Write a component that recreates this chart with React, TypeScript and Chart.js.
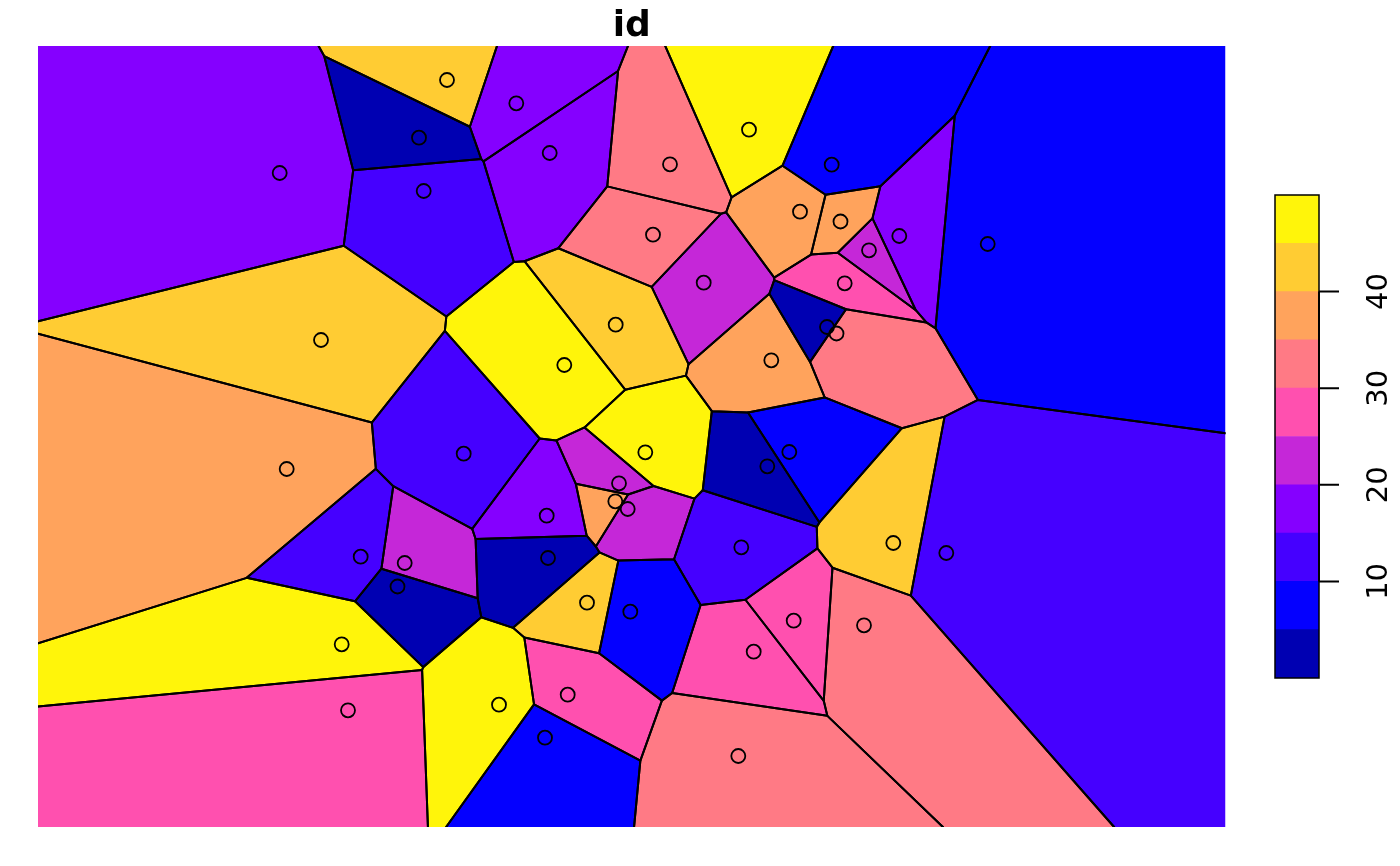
import React, { useEffect, useRef } from "react";
import { Chart, registerables } from "chart.js";

Chart.register(...registerables);

// ---------- data ----------
const chartTitle = "id";
const xExtent = [0, 1187.5];
const yExtent = [0, 781];

const seedX = [
  409, 478.3, 381, 511.7, 241.7, 385.7, 632, 711, 793.7, 762,
  802.5, 615, 831, 861.3, 949.7, 665.7, 806.7, 577.7, 283, 789,
  798.5, 526.3, 733.3, 425.7, 607.3, 751.3, 729.3, 248.7, 581, 577.3,
  589.7, 508.7, 703.3, 855.3, 908.3, 322.7, 366.7, 510, 359.5, 549,
  592.3, 755.7, 826, 303.7, 715.7, 529.7, 461, 310, 507, 700.3,
];
const seedY = [
  747, 723.7, 689.3, 674, 654, 636, 662.7, 697.3, 662.3, 615.3,
  605.5, 592.3, 576.7, 591, 583, 544.3, 543.7, 502.3, 487, 500,
  493.5, 462, 466.7, 373.3, 374.7, 375, 360.7, 358, 343.7, 325.7,
  318, 311.3, 279.7, 284, 274, 270.3, 264, 269, 240.5, 224.3,
  215.3, 206.3, 201.7, 182.7, 175.3, 132.3, 122.3, 116.7, 89.3, 71,
];
const seedId = [
  41, 16, 1, 17, 18, 11, 31, 46, 6, 36,
  37, 32, 21, 19, 7, 22, 26, 42, 43, 2,
  33, 47, 38, 12, 48, 8, 3, 39, 23, 40,
  24, 20, 13, 44, 14, 15, 25, 4, 5, 45,
  9, 27, 34, 49, 28, 29, 50, 30, 10, 35,
];
const breaks = [0, 5, 10, 15, 20, 25, 30, 35, 40, 45, 50];
const binColors = [
  "#0000B2", "#0400FF", "#4500FF", "#8500FF", "#C527D8",
  "#FF50AF", "#FF7A85", "#FFA35C", "#FFCC33", "#FFF50A",
];
const legendTicks = [10, 20, 30, 40];

// ---------- voronoi from seeds ----------
type Pt = { x: number; y: number };

function clipHalf(poly: Pt[], a: Pt, b: Pt): Pt[] {
  const nx = b.x - a.x;
  const ny = b.y - a.y;
  const mx = (a.x + b.x) / 2;
  const my = (a.y + b.y) / 2;
  const f = (p: Pt) => (p.x - mx) * nx + (p.y - my) * ny;
  const out: Pt[] = [];
  for (let k = 0; k < poly.length; k++) {
    const p = poly[k];
    const q = poly[(k + 1) % poly.length];
    const fp = f(p);
    const fq = f(q);
    if (fp <= 0) out.push(p);
    if ((fp < 0 && fq > 0) || (fp > 0 && fq < 0)) {
      const t = fp / (fp - fq);
      out.push({ x: p.x + t * (q.x - p.x), y: p.y + t * (q.y - p.y) });
    }
  }
  return out;
}

function computeCells(): Pt[][] {
  const seeds = seedX.map((x, i) => ({ x, y: seedY[i] }));
  return seeds.map((s, i) => {
    let poly: Pt[] = [
      { x: xExtent[0], y: yExtent[0] },
      { x: xExtent[1], y: yExtent[0] },
      { x: xExtent[1], y: yExtent[1] },
      { x: xExtent[0], y: yExtent[1] },
    ];
    seeds.forEach((o, j) => {
      if (j !== i && poly.length) poly = clipHalf(poly, s, o);
    });
    return poly;
  });
}

function colorFor(id: number): string {
  for (let k = 0; k < breaks.length - 1; k++) {
    if (id > breaks[k] && id <= breaks[k + 1]) return binColors[k];
  }
  return binColors[0];
}

function onBoundary(p: Pt, q: Pt): boolean {
  const e = 1e-6;
  if (Math.abs(p.x - xExtent[0]) < e && Math.abs(q.x - xExtent[0]) < e) return true;
  if (Math.abs(p.x - xExtent[1]) < e && Math.abs(q.x - xExtent[1]) < e) return true;
  if (Math.abs(p.y - yExtent[0]) < e && Math.abs(q.y - yExtent[0]) < e) return true;
  if (Math.abs(p.y - yExtent[1]) < e && Math.abs(q.y - yExtent[1]) < e) return true;
  return false;
}

const FONT = '"DejaVu Sans", "Liberation Sans", sans-serif';

export default function App() {
  const mainRef = useRef<HTMLCanvasElement>(null);
  const legRef = useRef<HTMLCanvasElement>(null);

  useEffect(() => {
    const cells = computeCells();

    const cellPlugin = {
      id: "voronoiCells",
      beforeDatasetsDraw(chart: any) {
        const { ctx, chartArea } = chart;
        const xs = chart.scales.x;
        const ys = chart.scales.y;
        ctx.save();
        ctx.beginPath();
        ctx.rect(chartArea.left, chartArea.top, chartArea.right - chartArea.left, chartArea.bottom - chartArea.top);
        ctx.clip();
        cells.forEach((poly, i) => {
          if (poly.length < 3) return;
          ctx.beginPath();
          poly.forEach((p, k) => {
            const px = xs.getPixelForValue(p.x);
            const py = ys.getPixelForValue(p.y);
            if (k === 0) ctx.moveTo(px, py);
            else ctx.lineTo(px, py);
          });
          ctx.closePath();
          ctx.fillStyle = colorFor(seedId[i]);
          ctx.fill();
        });
        ctx.strokeStyle = "#000";
        ctx.lineWidth = 2;
        ctx.lineJoin = "round";
        ctx.lineCap = "round";
        cells.forEach((poly) => {
          ctx.beginPath();
          for (let k = 0; k < poly.length; k++) {
            const p = poly[k];
            const q = poly[(k + 1) % poly.length];
            if (onBoundary(p, q)) continue;
            ctx.moveTo(xs.getPixelForValue(p.x), ys.getPixelForValue(p.y));
            ctx.lineTo(xs.getPixelForValue(q.x), ys.getPixelForValue(q.y));
          }
          ctx.stroke();
        });
        ctx.restore();
      },
    };

    const titlePlugin = {
      id: "plotTitle",
      afterDraw(chart: any) {
        const { ctx, chartArea } = chart;
        ctx.save();
        ctx.font = `bold 36px ${FONT}`;
        ctx.fillStyle = "#000";
        ctx.textAlign = "center";
        ctx.textBaseline = "alphabetic";
        ctx.fillText(chartTitle, (chartArea.left + chartArea.right) / 2, 36);
        ctx.restore();
      },
    };

    const main = new Chart(mainRef.current as HTMLCanvasElement, {
      type: "scatter",
      data: {
        datasets: [
          {
            label: chartTitle,
            data: seedX.map((x, i) => ({ x, y: seedY[i] })),
            pointStyle: "circle",
            pointRadius: 7,
            pointBorderWidth: 1.8,
            borderWidth: 1.8,
            borderColor: "#000",
            pointBorderColor: "#000",
            backgroundColor: "rgba(0,0,0,0)",
            pointBackgroundColor: "rgba(0,0,0,0)",
          },
        ],
      },
      options: {
        responsive: false,
        animation: false,
        layout: { padding: { left: 38, top: 46, right: 174.5, bottom: 39 } },
        scales: {
          x: { type: "linear", min: xExtent[0], max: xExtent[1], display: false },
          y: { type: "linear", min: yExtent[0], max: yExtent[1], display: false },
        },
        plugins: {
          legend: { display: false },
          tooltip: { enabled: false },
          title: { display: false },
        },
        events: [],
      },
      plugins: [cellPlugin, titlePlugin],
    } as any);

    const legendPlugin = {
      id: "colorBarAxis",
      afterDraw(chart: any) {
        const { ctx, chartArea } = chart;
        const ys = chart.scales.y;
        ctx.save();
        ctx.strokeStyle = "#000";
        ctx.lineWidth = 1.5;
        ctx.strokeRect(chartArea.left, chartArea.top, chartArea.right - chartArea.left, chartArea.bottom - chartArea.top);
        const r = chartArea.right;
        ctx.lineWidth = 2;
        ctx.beginPath();
        ctx.moveTo(r, ys.getPixelForValue(legendTicks[0]));
        ctx.lineTo(r, ys.getPixelForValue(legendTicks[legendTicks.length - 1]));
        legendTicks.forEach((t) => {
          const py = ys.getPixelForValue(t);
          ctx.moveTo(r, py);
          ctx.lineTo(r + 20, py);
        });
        ctx.stroke();
        ctx.fillStyle = "#000";
        ctx.font = `29px ${FONT}`;
        ctx.textAlign = "center";
        ctx.textBaseline = "alphabetic";
        legendTicks.forEach((t) => {
          const py = ys.getPixelForValue(t);
          ctx.save();
          ctx.translate(r + 68, py);
          ctx.rotate(-Math.PI / 2);
          ctx.fillText(String(t), 0, 0);
          ctx.restore();
        });
        ctx.restore();
      },
    };

    const legend = new Chart(legRef.current as HTMLCanvasElement, {
      type: "bar",
      data: {
        labels: [chartTitle],
        datasets: binColors.map((c, k) => ({
          label: `${breaks[k]}-${breaks[k + 1]}`,
          data: [breaks[k + 1] - breaks[k]],
          backgroundColor: c,
          borderWidth: 0,
          barPercentage: 1,
          categoryPercentage: 1,
        })),
      },
      options: {
        responsive: false,
        animation: false,
        layout: { padding: { left: 15, top: 15, right: 81, bottom: 22 } },
        scales: {
          x: { stacked: true, display: false },
          y: { stacked: true, min: breaks[0], max: breaks[breaks.length - 1], display: false },
        },
        plugins: {
          legend: { display: false },
          tooltip: { enabled: false },
          title: { display: false },
        },
        events: [],
      },
      plugins: [legendPlugin],
    } as any);

    return () => {
      main.destroy();
      legend.destroy();
    };
  }, []);

  return (
    <div style={{ position: "fixed", left: 0, top: 0, width: 1400, height: 866, background: "#fff" }}>
      <canvas ref={mainRef} width={1400} height={866} style={{ position: "absolute", left: 0, top: 0 }} />
      <canvas ref={legRef} width={140} height={520} style={{ position: "absolute", left: 1260, top: 180 }} />
    </div>
  );
}
